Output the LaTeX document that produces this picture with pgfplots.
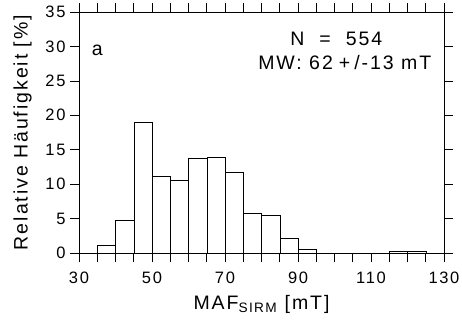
\documentclass[border=0pt]{standalone}
\usepackage{fontspec}
\setmainfont[LetterSpace=10]{Liberation Sans}
\usepackage{pgfplots}
\pgfplotsset{compat=1.18}
\begin{document}
\begin{tikzpicture}[x=1bp,y=1bp]
\useasboundingbox (-79bp,-69bp) rectangle (383bp,253bp);
\begin{axis}[
  at={(0,0)}, anchor=south west,
  scale only axis, width=365bp, height=241bp,
  xmin=30, xmax=130, ymin=0, ymax=35,
  xtick={30,50,...,130}, minor x tick num=3,
  ytick={0,5,...,35},
  tick align=outside,
  major tick length=9bp, minor tick length=9bp,
  axis line style={line width=0.9pt},
  every tick/.style={black, line width=0.6pt},
  /pgf/number format/assume math mode=true,
  ticklabel style={font=\fontsize{16.5bp}{18bp}\selectfont},
  xticklabel style={yshift=-6bp},
  yticklabel style={xshift=-1bp},
  xlabel={MAF\textsubscript{SIRM} [mT]},
  ylabel={Relative Häufigkeit [\%]},
  label style={font=\fontsize{19.5bp}{21bp}\selectfont},
  xlabel style={yshift=-5bp},
  ylabel style={yshift=7bp},
  clip=false,
]
\addplot[ybar interval, fill=white, draw=black, line width=0.5pt] coordinates {
 (35,1.1) (40,4.8) (45,19.0) (50,11.2) (55,10.5) (60,13.7) (65,13.9)
 (70,11.8) (75,5.8) (80,5.5) (85,2.2) (90,0.6) (95,0) (100,0) (105,0)
 (110,0) (115,0.2) (120,0.2) (125,0.2)
};
\draw[line width=1pt] (axis cs:30,0) -- (axis cs:130,0);
\node[font=\fontsize{19.5bp}{21bp}\selectfont] at (axis cs:35,29.5) {a};
\node[font=\fontsize{19.5bp}{21bp}\selectfont] at (axis cs:100.5,31.1) {N\hspace{15bp}=\hspace{15bp}554};
\node[font=\fontsize{19.5bp}{21bp}\selectfont] at (axis cs:102.8,27.7) {MW:\ 62\hspace{6bp}+\hspace{4bp}/-13 mT};
\end{axis}
\end{tikzpicture}
\end{document}
